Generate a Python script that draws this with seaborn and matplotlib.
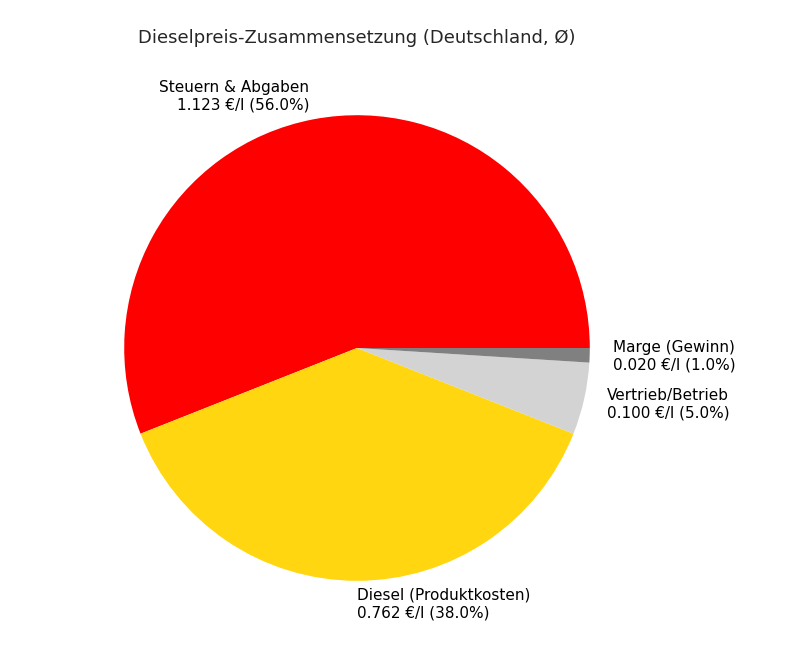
import matplotlib
matplotlib.use("Agg")
import matplotlib.pyplot as plt
import seaborn as sns

kategorien = ["Steuern & Abgaben", "Diesel (Produktkosten)", "Vertrieb/Betrieb", "Marge (Gewinn)"]
preise = [1.123, 0.762, 0.100, 0.020]
anteile = [56.0, 38.0, 5.0, 1.0]
farben = ["#ff0000", "#ffd60f", "#d3d3d3", "#808080"]

sns.set_style("white")
plt.rcParams['font.family'] = ['DejaVu Sans']

labels = [f"{k}\n{p:.3f} €/l ({a:.1f}%)" for k, p, a in zip(kategorien, preise, anteile)]

fig = plt.figure(figsize=(8.02, 6.52), dpi=100)
ax = fig.add_axes([66 / 802, 13 / 652, 582 / 802, 582 / 652])
ax.pie(anteile, labels=labels, colors=farben, startangle=0,
       wedgeprops={"linewidth": 0}, textprops={"fontsize": 11, "color": "black"})
ax.set_xlim(-1.25, 1.25)
ax.set_ylim(-1.25, 1.25)
ax.set_aspect("equal")
ax.axis("off")
fig.text(357 / 802, 1 - 38 / 652, "Dieselpreis-Zusammensetzung (Deutschland, Ø)",
         ha="center", va="center", fontsize=13)

plt.savefig("out.png", dpi=100)
